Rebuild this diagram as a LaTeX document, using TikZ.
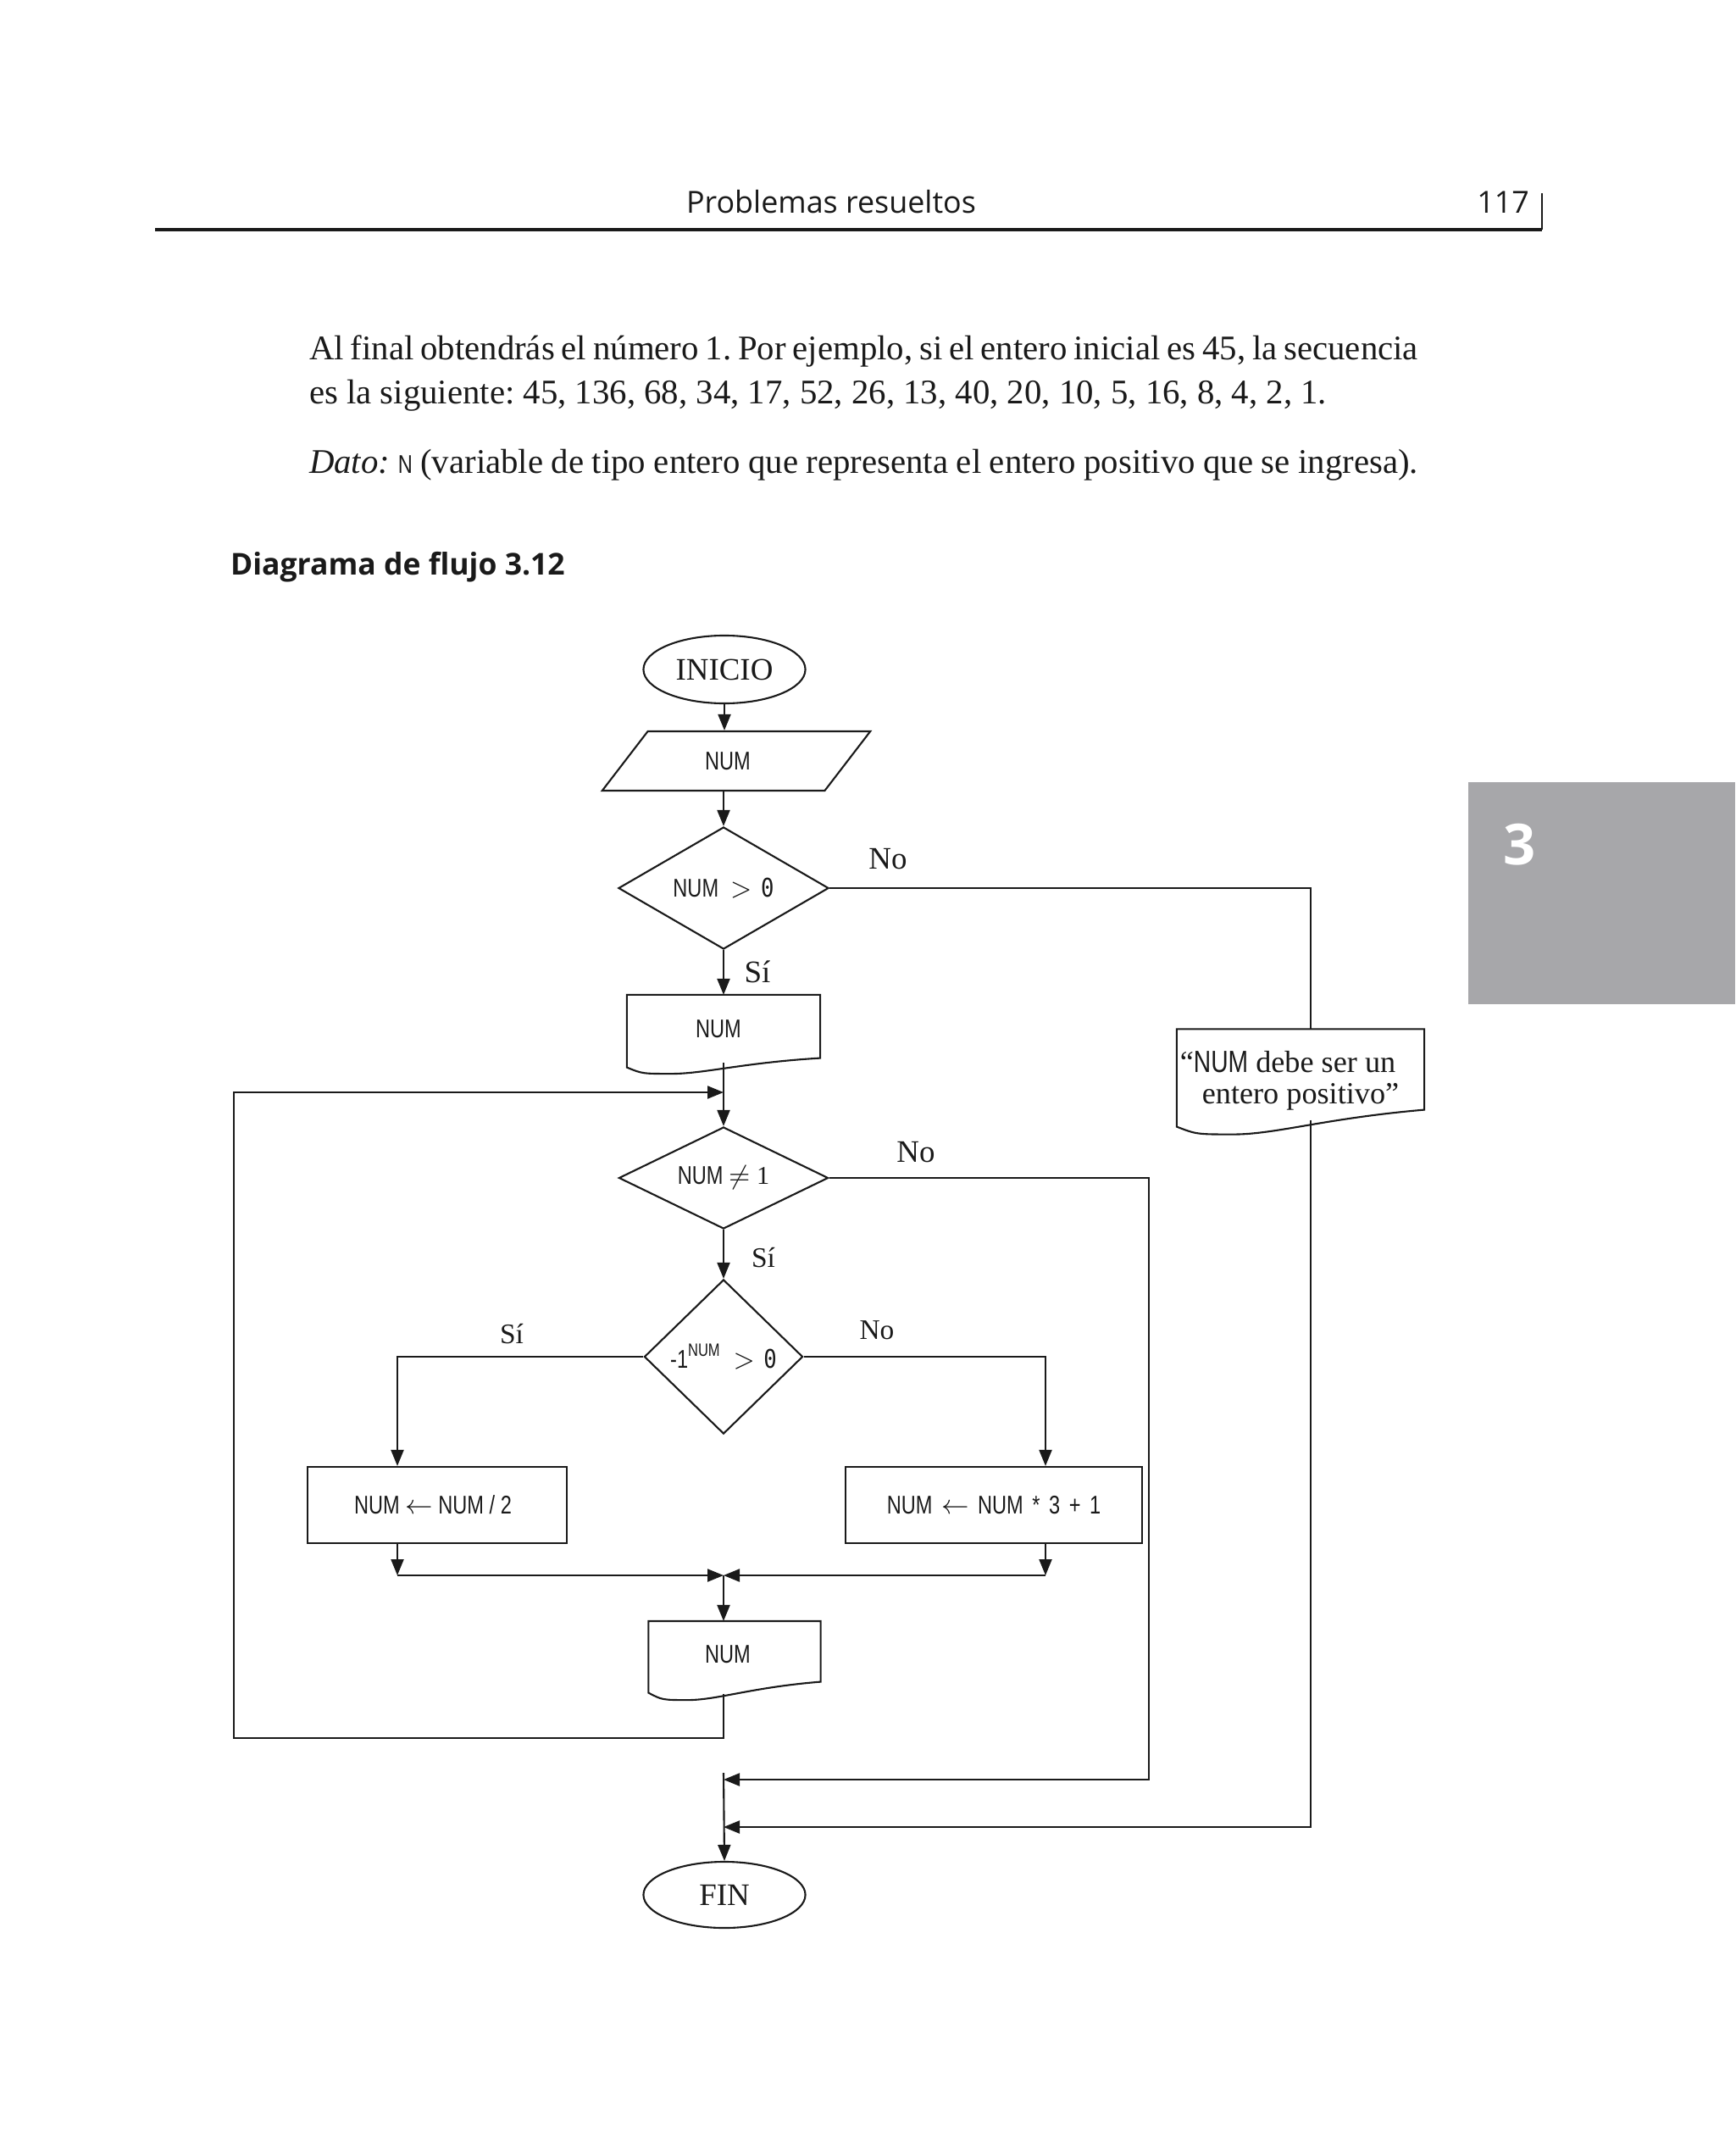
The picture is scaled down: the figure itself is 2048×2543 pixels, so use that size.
\documentclass[tikz,border=0pt]{standalone}
\usepackage{fontspec}
\setmainfont{Liberation Serif}
\newfontfamily\headfont{Open Sans}
\newfontfamily\codefont[FakeStretch=0.78]{Liberation Sans}
\newfontfamily\zerofont[FakeStretch=0.85]{DejaVu Sans Mono}
\usetikzlibrary{positioning, shapes.geometric, arrows.meta, calc}
\definecolor{tinta}{HTML}{1A1A1A}
\definecolor{pestana}{HTML}{A7A7AA}
\frenchspacing
\newcommand{\cero}{{\zerofont 0}}
\newcommand{\esp}{\hspace{3pt}}
\newcommand{\justo}[1]{{\spaceskip=0.25em plus 0.25em minus 0.12em\relax\makebox[13.08cm][s]{#1}}}
\newcommand{\docoutline}[3]{%
  \draw (#1.north west) -- (#1.north east) -- ($(#1.south east)+(0,-#2)$)
    .. controls ($(#1.south west)!0.6!(#1.south east)$) and ($(#1.south west)!0.4!(#1.south east)+(0,#2+#3)$) .. ($(#1.south west)!0.23!(#1.south east)+(0,#2+#3)$)
    .. controls ($(#1.south west)!0.08!(#1.south east)+(0,#2+#3)$) .. ($(#1.south west)+(0,#2)$) -- cycle;}

\begin{document}
\begin{tikzpicture}[x=0.01cm, y=-0.01cm, line width=0.6pt, draw=tinta, text=tinta,
  flecha/.style={-{Triangle[length=1.9mm, width=1.5mm]}},
  terminal/.style={ellipse, draw, minimum width=1.91cm, minimum height=0.80cm, inner sep=0pt, font=\fontsize{10.5}{12}\selectfont},
  decision/.style={diamond, draw, aspect=1, inner sep=0pt, font=\codefont\fontsize{8.6}{10}\selectfont},
  proceso/.style={rectangle, draw, minimum height=0.90cm, inner sep=0pt, font=\codefont\fontsize{8.6}{10}\selectfont},
  docbox/.style={rectangle, inner sep=0pt, font=\codefont\fontsize{8.6}{10}\selectfont},
  etiqueta/.style={inner sep=0pt, font=\fontsize{10.5}{12}\selectfont},
  chica/.style={inner sep=0pt, font=\fontsize{9.5}{11}\selectfont},
  cuerpo/.style={anchor=base west, inner sep=0pt, font=\fontsize{11.6}{14}\selectfont}
]
  \useasboundingbox (0,0) rectangle (2048,2543);

  % cabecera de la pagina
  \node[anchor=base, inner sep=0pt, font=\headfont\fontsize{10.2}{13}\selectfont] (cabecera) at (981,252) {Problemas resueltos};
  \node[anchor=base east, inner sep=0pt, font=\headfont\fontsize{10.2}{13}\selectfont] (pagina) at (1806,252) {117};
  \draw[line width=1.2pt] (183,271) -- (1820,271);
  \draw[line width=0.5pt] (1820,271) -- (1820,228);

  \fill[pestana] (1733,923) rectangle (2048,1185);
  \node[text=white, inner sep=0pt, font=\headfont\bfseries\fontsize{19}{21}\selectfont] (capitulo) at (1794,997) {3};

  \node[cuerpo] (linea1) at (364,425) {\justo{Al final obtendrás el número 1. Por ejemplo, si el entero inicial es 45, la secuencia}};
  \node[cuerpo] (linea2) at (364,477) {es la siguiente: 45, 136, 68, 34, 17, 52, 26, 13, 40, 20, 10, 5, 16, 8, 4, 2, 1.};
  \node[cuerpo] (dato) at (364,558) {\justo{\textit{Dato:} {\codefont\fontsize{8.6}{10}\selectfont N} (variable de tipo entero que representa el entero positivo que se ingresa).}};

  \node[anchor=base west, inner sep=0pt, font=\headfont\bfseries\fontsize{10.1}{13}\selectfont] (titulo) at (271,679) {Diagrama de flujo 3.12};

  % diagrama
  \node[terminal] (inicio) at (855,790) {INICIO};
  \node[trapezium, trapezium left angle=48, trapezium right angle=132, trapezium stretches=true, draw,
        minimum width=3.17cm, minimum height=0.70cm, inner sep=0pt, font=\codefont\fontsize{8.6}{10}\selectfont] (leer) at (869,898) {NUM\hspace*{0.2cm}};
  \node[decision, minimum width=2.48cm, minimum height=1.44cm] (cond1) at (854,1048) {NUM\hspace{4pt}$>$\hspace{3pt}\cero};
  \node[docbox, minimum width=2.26cm, minimum height=0.78cm] (impr1) at (854,1214) {NUM\hspace*{0.12cm}};
  \docoutline{impr1}{5.5}{7.5}
  \node[docbox, minimum width=2.90cm, minimum height=1.03cm, font=\fontsize{10.3}{10.5}\selectfont] (msg) at (1535,1267)
    {\raisebox{-0.1cm}[\height][\depth]{\begin{tabular}{@{}c@{}}“{\codefont NUM} debe ser un\hspace*{0.3cm}\\entero positivo”\end{tabular}}};
  \docoutline{msg}{10}{9}
  \node[decision, aspect=2.2, minimum width=2.47cm, minimum height=1.20cm] (cond2) at (854,1390) {NUM {\rmfamily$\neq$ 1}};
  \node[decision, minimum width=1.87cm, minimum height=1.82cm] (cond3) at (854,1601) {-1\textsuperscript{NUM}\hspace{4pt}$>$\hspace{3pt}\cero};
  \node[proceso, minimum width=3.06cm] (mitad) at (516,1776) {NUM $\leftarrow$ NUM / 2\hspace*{0.1cm}};
  \node[proceso, minimum width=3.50cm] (triple) at (1173,1776) {NUM\esp$\leftarrow$\esp NUM\esp*\esp 3\esp+\esp 1};
  \node[docbox, minimum width=2.01cm, minimum height=0.76cm] (impr2) at (867,1952) {NUM\hspace*{0.16cm}};
  \docoutline{impr2}{6.5}{8.5}
  \node[terminal, minimum height=0.78cm] (fin) at (855,2236) {FIN};

  \coordinate (retorno) at (854,1289);
  \coordinate (lazo) at (276,2051);
  \coordinate (junta) at (854,1859);
  \coordinate (ramaI) at (469,1859);
  \coordinate (ramaD) at (1234,1859);
  \coordinate (salidaNo) at (1356,2100);
  \coordinate (llega1) at (854,2100);
  \coordinate (salidaMsg) at (1547,2156);
  \coordinate (llega2) at (854,2156);
  \coordinate (arranque) at (854,2092);

  \node[etiqueta] (no1) at (1048,1014) {No};
  \node[etiqueta] (si1) at (894,1147) {Sí};
  \node[etiqueta] (no2) at (1081,1360) {No};
  \node[chica] (si2) at (901,1484) {Sí};
  \node[chica] (si3) at (604,1574) {Sí};
  \node[chica] (no3) at (1035,1570) {No};

  \draw[flecha] (inicio.south) -- (inicio.south |- leer.north);
  \draw[flecha] (cond1.north |- leer.south) -- (cond1.north);
  \draw[flecha] (cond1.south) -- (impr1.north);
  \draw (cond1.east) -| ($(msg.north)+(12,0)$);
  \draw[flecha] ($(msg.south)+(12,2)$) -- (salidaMsg) -- (llega2);
  \draw[flecha] (impr1.south) -- (cond2.north);
  \draw[flecha] ($(junta |- impr2.south)+(0,8)$) |- (lazo) |- (retorno);
  \draw[flecha] (cond2.east) -| (salidaNo) -- (llega1);
  \draw[flecha] (cond2.south) -- (cond3.north);
  \draw[flecha] (cond3.west) -| (ramaI |- mitad.north);
  \draw[flecha] (cond3.east) -| (ramaD |- triple.north);
  \draw[flecha] (ramaI |- mitad.south) -- (ramaI);
  \draw[flecha] (ramaD |- triple.south) -- (ramaD);
  \draw[flecha] (ramaI) -- (junta);
  \draw[flecha] (ramaD) -- (junta);
  \draw[flecha] (junta) -- (junta |- impr2.north);
  \draw[flecha] (arranque) -- (fin.north);
\end{tikzpicture}
\end{document}
